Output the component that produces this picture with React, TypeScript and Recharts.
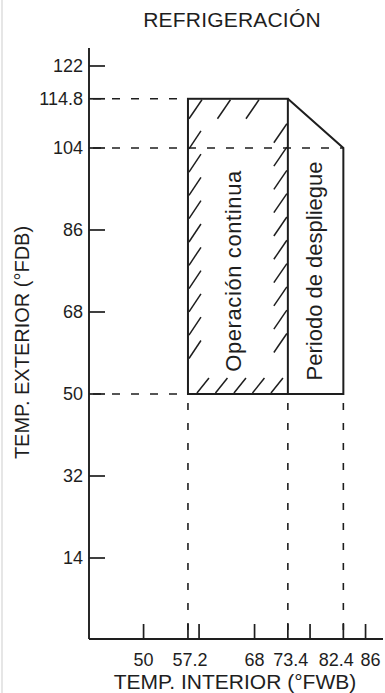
import React from 'react';
import {
  ComposedChart,
  XAxis,
  YAxis,
  Line,
  ReferenceLine,
  ReferenceArea,
  Label,
  Customized,
} from 'recharts';

// ---------- data ----------
const titleText = 'REFRIGERACIÓN';
const xAxisTitle = 'TEMP. INTERIOR (°FWB)';
const yAxisTitle = 'TEMP. EXTERIOR (°FDB)';

const xDomain: [number, number] = [41.15, 88.83];
const yDomain: [number, number] = [-3.78, 125.95];

const xTicks = [50, 57.2, 59, 68, 73.4, 77, 82.4, 86];
const xTickLabels = ['50', '57.2', '', '68', '73.4', '', '82.4', '86'];
const yTicks = [14, 32, 50, 68, 86, 104, 114.8, 122];
const yTickLabels = ['14', '32', '50', '68', '86', '104', '114.8', '122'];

// continuous operation zone (hatched rectangle)
const continuousX = [57.2, 73.4];
const continuousY = [50, 114.8];
const continuousLabel = 'Operación continua';

// pull-down period zone (polygon)
const pulldownPolygon = [
  { x: 73.4, y: 114.8 },
  { x: 82.4, y: 104 },
  { x: 82.4, y: 50 },
  { x: 73.4, y: 50 },
];
const pulldownLabel = 'Periodo de despliegue';
const labelBandY = [50, 104];

// dashed guide lines
const hGuideY = [114.8, 104, 50];
const hGuideToX = [57.2, 82.4, 57.2];
const vGuideX = [57.2, 73.4, 82.4];
const vGuideTopY = [50, 50, 50];

// ---------- styling ----------
const FONT = '"Liberation Sans", Arial, Helvetica, sans-serif';
const INK = '#1e1e1e';
const xLabelNudge: Record<string, number> = { '57.2': 2, '73.4': 3, '82.4': -7, '86': 5 };

const XTick = (props: any) => {
  const { x, y, payload } = props;
  const i = xTicks.indexOf(payload.value);
  const label = i >= 0 ? xTickLabels[i] : '';
  return (
    <g>
      <line x1={x} x2={x} y1={y} y2={y - 15} stroke={INK} strokeWidth={1.7} />
      {label ? (
        <text
          x={x + (xLabelNudge[label] || 0)}
          y={y + 27}
          textAnchor="middle"
          fontSize={18}
          fill={INK}
          fontFamily={FONT}
        >
          {label}
        </text>
      ) : null}
    </g>
  );
};

const YTick = (props: any) => {
  const { x, y, payload } = props;
  const i = yTicks.indexOf(payload.value);
  const label = i >= 0 ? yTickLabels[i] : '';
  return (
    <g>
      <line x1={x} x2={x + 16} y1={y} y2={y} stroke={INK} strokeWidth={1.7} />
      <text
        x={x - 6}
        y={y}
        dy="0.35em"
        textAnchor="end"
        fontSize={18}
        fill={INK}
        fontFamily={FONT}
      >
        {label}
      </text>
    </g>
  );
};

const HatchedRect = (props: any) => {
  const { x, y, width, height } = props;
  const L = x;
  const T = y;
  const R = x + width;
  const B = y + height;
  const segs: number[][] = [];
  for (let xt = L + 14; xt <= R - 2; xt += 28.5) segs.push([xt - 13, T + 20, xt, T + 1]);
  for (let yb = T + 50; yb <= B - 14; yb += 23.3) segs.push([L + 1, yb, L + 13, yb - 18]);
  for (let yt = T + 25; yt <= B - 40; yt += 23.3) segs.push([R - 14, yt + 19, R - 1, yt]);
  for (let xb = L + 9; xb <= R - 16; xb += 18.5) segs.push([xb, B - 1, xb + 12, B - 16]);
  return (
    <g>
      {segs.map((s, k) => (
        <line key={k} x1={s[0]} y1={s[1]} x2={s[2]} y2={s[3]} stroke={INK} strokeWidth={1.5} />
      ))}
      <rect x={L} y={T} width={width} height={height} fill="none" stroke={INK} strokeWidth={2} />
    </g>
  );
};

const verticalText = (text: string, shift: number, size: number, spacing: number) => (props: any) => {
  const vb = props.viewBox || {};
  const cx = vb.x + vb.width / 2 + shift;
  const cy = vb.y + vb.height / 2;
  return (
    <text
      transform={`translate(${cx},${cy}) rotate(-90)`}
      textAnchor="middle"
      fontSize={size}
      letterSpacing={spacing}
      fill={INK}
      fontFamily={FONT}
    >
      {text}
    </text>
  );
};

const Title = () => (
  <text
    x={232}
    y={27}
    textAnchor="middle"
    fontSize={21}
    letterSpacing={0.2}
    fill={INK}
    fontFamily={FONT}
  >
    {titleText}
  </text>
);

export default function App() {
  return (
    <div style={{ position: 'absolute', left: 0, top: 0, width: 385, height: 693, background: '#fff' }}>
      <div style={{ position: 'absolute', left: 1, top: 0, width: 2, height: 693, background: '#e6e6e6' }} />
      <ComposedChart
        width={385}
        height={693}
        margin={{ top: 48, right: 2, bottom: 0, left: 0 }}
        style={{ position: 'absolute', left: 0, top: 0 }}
      >
        <XAxis
          dataKey="x"
          type="number"
          domain={xDomain}
          ticks={xTicks}
          interval={0}
          allowDataOverflow
          height={54}
          tickSize={0}
          tickMargin={0}
          tickLine={false}
          tick={<XTick />}
          axisLine={{ stroke: INK, strokeWidth: 1.9 }}
        >
          <Label
            content={() => (
              <text x={235} y={689} textAnchor="middle" fontSize={21} fill={INK} fontFamily={FONT}>
                {xAxisTitle}
              </text>
            )}
          />
        </XAxis>
        <YAxis
          type="number"
          domain={yDomain}
          ticks={yTicks}
          interval={0}
          allowDataOverflow
          width={89}
          tickSize={0}
          tickMargin={0}
          tickLine={false}
          tick={<YTick />}
          axisLine={{ stroke: INK, strokeWidth: 1.9 }}
        >
          <Label
            content={() => (
              <text
                transform="translate(29,342.5) rotate(-90)"
                textAnchor="middle"
                fontSize={20}
                fill={INK}
                fontFamily={FONT}
              >
                {yAxisTitle}
              </text>
            )}
          />
        </YAxis>

        {hGuideY.map((yv, i) => (
          <ReferenceLine
            key={`h${i}`}
            segment={[
              { x: xDomain[0], y: yv },
              { x: hGuideToX[i], y: yv },
            ]}
            stroke={INK}
            strokeWidth={1.4}
            strokeDasharray="8 11"
            strokeDashoffset={15}
          />
        ))}
        {vGuideX.map((xv, i) => (
          <ReferenceLine
            key={`v${i}`}
            segment={[
              { x: xv, y: yDomain[0] },
              { x: xv, y: vGuideTopY[i] },
            ]}
            stroke={INK}
            strokeWidth={1.6}
            strokeDasharray="7 13"
            strokeDashoffset={11}
          />
        ))}

        <ReferenceArea
          x1={continuousX[0]}
          x2={continuousX[1]}
          y1={continuousY[0]}
          y2={continuousY[1]}
          shape={<HatchedRect />}
        />
        <Line
          data={pulldownPolygon}
          dataKey="y"
          type="linear"
          stroke={INK}
          strokeWidth={2}
          dot={false}
          activeDot={false}
          isAnimationActive={false}
        />
        <ReferenceArea
          x1={continuousX[0]}
          x2={continuousX[1]}
          y1={labelBandY[0]}
          y2={labelBandY[1]}
          fill="none"
          stroke="none"
          label={verticalText(continuousLabel, 3.5, 22, 0.6)}
        />
        <ReferenceArea
          x1={pulldownPolygon[3].x}
          x2={pulldownPolygon[1].x}
          y1={labelBandY[0]}
          y2={labelBandY[1]}
          fill="none"
          stroke="none"
          label={verticalText(pulldownLabel, 6, 22, 0)}
        />
        <Customized component={Title} />
      </ComposedChart>
    </div>
  );
}
